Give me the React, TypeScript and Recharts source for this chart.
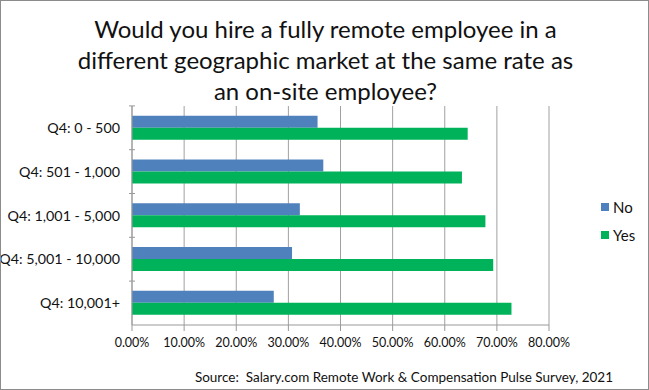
import { BarChart, Bar, XAxis, YAxis, CartesianGrid } from 'recharts'

const categories = ['Q4: 0 - 500', 'Q4: 501 - 1,000', 'Q4: 1,001 - 5,000', 'Q4: 5,001 - 10,000', 'Q4: 10,001+']
const noValues = [0.356, 0.367, 0.322, 0.307, 0.272]
const yesValues = [0.644, 0.633, 0.678, 0.693, 0.728]
const xTicks = [0, 0.1, 0.2, 0.3, 0.4, 0.5, 0.6, 0.7, 0.8]

const titleLines = [
  'Would you hire a fully remote employee in a',
  'different geographic market at the same rate as',
  'an on-site employee?',
]
const sourceText = 'Source:  Salary.com Remote Work & Compensation Pulse Survey, 2021'

const NO_COLOR = '#4f81bd'
const YES_COLOR = '#00b35a'
const FONT = 'Lato, "Open Sans", sans-serif'

const data = categories.map((name, i) => ({ name, No: noValues[i], Yes: yesValues[i] }))

const CategoryTick = (props: any) => {
  const { x, y, payload } = props
  return (
    <g>
      <line x1={x + 9} x2={x + 15} y1={y - 22} y2={y - 22} stroke="#999" />
      <text x={x} y={y} dy={5} textAnchor="end" fontSize={14.3} fill="#111" fontFamily={FONT}>
        {payload.value}
      </text>
    </g>
  )
}

const App = () => {
  return (
    <div
      style={{
        position: 'relative',
        width: 649,
        height: 390,
        boxSizing: 'border-box',
        border: '1px solid #8c8c8c',
        background: '#fff',
        fontFamily: FONT,
        overflow: 'hidden',
      }}
    >
      <style>{`body { margin: 0; }`}</style>
      <div
        style={{
          position: 'absolute',
          top: 12,
          left: 0,
          width: 649,
          textAlign: 'center',
          fontSize: 24,
          lineHeight: '31px',
          color: '#111',
        }}
      >
        {titleLines.map((l) => (
          <div key={l}>{l}</div>
        ))}
      </div>
      <div style={{ position: 'absolute', top: -1, left: -1 }}>
        <BarChart
          width={649}
          height={390}
          data={data}
          layout="vertical"
          margin={{ top: 106, right: 100, bottom: 40, left: 0 }}
          barCategoryGap="22%"
          barGap={0}
        >
          <CartesianGrid horizontal={false} stroke="#a0a0a0" />
          <XAxis
            type="number"
            domain={[0, 0.8]}
            ticks={xTicks}
            tickFormatter={(v: number) => `${(v * 100).toFixed(2)}%`}
            stroke="#999"
            tick={{ fill: '#111', fontSize: 12.5, fontFamily: FONT }}
            tickMargin={7}
            height={25}
            interval={0}
          />
          <YAxis
            type="category"
            dataKey="name"
            width={132}
            stroke="#999"
            tickLine={false}
            tick={<CategoryTick />}
            tickMargin={6}
          />
          <Bar dataKey="No" fill={NO_COLOR} isAnimationActive={false} />
          <Bar dataKey="Yes" fill={YES_COLOR} isAnimationActive={false} />
        </BarChart>
      </div>
      <div style={{ position: 'absolute', left: 600, top: 192, fontSize: 15, color: '#111' }}>
        {[
          { label: 'No', color: NO_COLOR },
          { label: 'Yes', color: YES_COLOR },
        ].map((it) => (
          <div key={it.label} style={{ display: 'flex', alignItems: 'center', height: 28 }}>
            <span style={{ display: 'inline-block', width: 8, height: 8, background: it.color, marginRight: 4 }} />
            {it.label}
          </div>
        ))}
      </div>
      <div
        style={{
          position: 'absolute',
          right: 35,
          top: 368,
          fontSize: 13.5,
          color: '#111',
          whiteSpace: 'pre',
        }}
      >
        {sourceText}
      </div>
    </div>
  )
}

export default App
